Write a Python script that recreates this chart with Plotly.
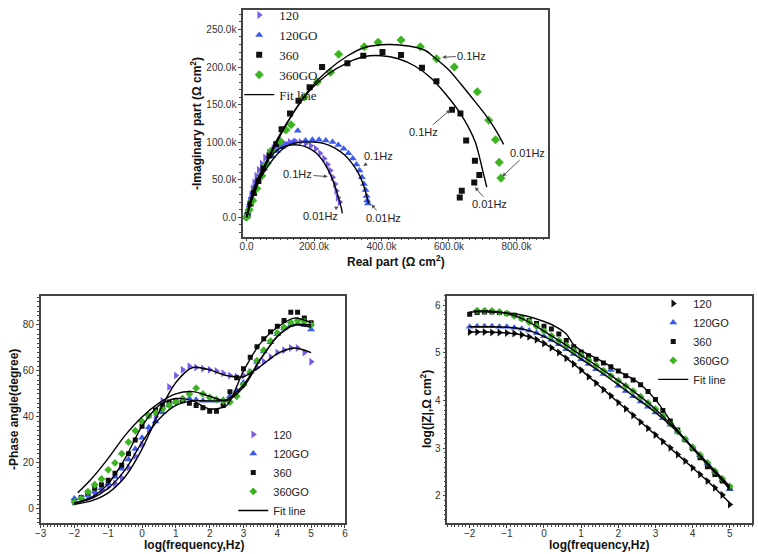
import plotly.graph_objects as go

# ---------------- Nyquist data (values in k ohm cm2) ----------------
ny120_x = [0, 2, 4, 7, 10, 14, 18, 23, 29, 36, 45, 55, 66, 80, 95, 110, 128, 145, 160, 175, 190, 205, 218, 230, 240, 248, 255, 262, 266, 270, 276]
ny120_y = [0, 5, 10, 15, 22, 30, 38, 46, 55, 63, 71, 79, 86, 92, 96, 99, 100, 101, 100, 98, 95, 91, 85, 78, 70, 62, 53, 44, 35, 26, 20]
ny120go_x = [0, 3, 6, 10, 15, 20, 26, 33, 42, 52, 63, 76, 90, 105, 120, 138, 152, 175, 195, 215, 235, 255, 272, 288, 302, 315, 326, 335, 342, 348, 353, 356, 358, 360]
ny120go_y = [0, 5, 11, 18, 26, 33, 41, 49, 57, 65, 73, 81, 88, 93, 97, 100, 115, 102, 103, 103, 102, 100, 96, 91, 85, 78, 70, 62, 53, 44, 36, 28, 22, 18]
ny360_x = [3, 12, 22, 35, 50, 68, 88, 104, 129, 154, 187, 224, 299, 346, 403, 458, 520, 563, 609, 634, 651, 677, 690, 675, 638, 632]
ny360_y = [3, 18, 32, 48, 65, 82, 97, 117, 138, 155, 173, 200, 205, 215, 220, 216, 199, 181, 143, 138, 102, 75, 56, 46, 35, 26]
ny360go_x = [0, 8, 18, 30, 45, 58, 73, 100, 117, 132, 171, 210, 249, 273, 349, 390, 458, 515, 563, 616, 684, 718, 738, 749, 754]
ny360go_y = [0, 10, 22, 38, 55, 70, 88, 101, 116, 123, 160, 180, 193, 217, 227, 233, 236, 227, 211, 200, 167, 129, 103, 73, 52]

nyfit120_x = [0, 10, 25, 45, 70, 100, 130, 155, 180, 205, 225, 242, 255, 265, 274, 281, 284]
nyfit120_y = [0, 20, 42, 62, 80, 92, 96, 96, 93, 86, 76, 63, 50, 37, 24, 12, 5]
nyfit120go_x = [0, 10, 25, 45, 70, 100, 130, 160, 195, 230, 262, 290, 312, 330, 343, 352, 358, 362]
nyfit120go_y = [0, 18, 38, 55, 72, 88, 97, 100, 100, 98, 92, 83, 72, 60, 47, 35, 25, 18]
nyfit360_x = [0, 20, 50, 90, 140, 190, 240, 300, 350, 400, 450, 500, 545, 590, 634, 660, 678, 690, 700, 712]
nyfit360_y = [0, 30, 65, 103, 140, 170, 190, 206, 214, 215, 211, 201, 186, 164, 138, 118, 100, 81, 62, 40]
nyfit360go_x = [0, 20, 50, 90, 140, 190, 240, 300, 350, 420, 480, 530, 556, 600, 634, 670, 712, 740, 762]
nyfit360go_y = [0, 28, 62, 100, 140, 172, 195, 215, 226, 230, 228, 222, 213, 196, 178, 158, 134, 115, 97]

ny_xtickvals = [0, 200, 400, 600, 800]
ny_xticktext = ["0.0", "200.0k", "400.0k", "600.0k", "800.0k"]
ny_ytickvals = [0, 50, 100, 150, 200, 250]
ny_yticktext = ["0.0", "50.0k", "100.0k", "150.0k", "200.0k", "250.0k"]

# frequency labels: text, text position, arrow tip (data units, k)
freq_labels = ["0.1Hz", "0.1Hz", "0.01Hz", "0.01Hz", "0.1Hz", "0.01Hz", "0.1Hz", "0.01Hz"]
freq_text_x = [668, 526, 833, 721, 390, 405, 151, 219]
freq_text_y = [215, 113, 86, 17, 81, -1, 57, 2]
freq_tip_x = [580, 604, 758, 677, 346, 370, 241, 273]
freq_tip_y = [213, 143, 54, 40, 68, 17, 54, 14]

# ---------------- Bode data ----------------
logf = [-2.0, -1.8, -1.6, -1.4, -1.2, -1.0, -0.8, -0.6, -0.4, -0.2, 0.0, 0.2, 0.4, 0.6, 0.8, 1.0, 1.2, 1.4,
        1.6, 1.8, 2.0, 2.2, 2.4, 2.6, 2.8, 3.0, 3.2, 3.4, 3.6, 3.8, 4.0, 4.2, 4.4, 4.6, 4.8, 5.0]
logf_go = [-1.8, -1.6, -1.4, -1.2, -1.0, -0.8, -0.6, -0.4, -0.2, 0.0, 0.2, 0.4, 0.6, 0.8, 1.0, 1.2, 1.4,
           1.6, 1.8, 2.0, 2.2, 2.4, 2.6, 2.8, 3.0, 3.2, 3.4, 3.6, 3.8, 4.0, 4.2, 4.4, 4.6, 4.8, 5.0]

ph120 = [3, 4, 5, 6, 8, 9.5, 11, 13.5, 18, 23, 28, 34, 40, 47, 53, 58, 60.5, 62, 61.5, 61, 60.5, 60, 59, 58, 57.5,
         58, 59.5, 61.5, 64, 66, 68, 69, 70, 70, 68, 64]
ph120go = [4.5, 5, 6, 7.5, 9, 11, 14, 17.5, 21.5, 26, 31, 35.5, 38, 42, 45, 46.5, 47.5, 48, 47.5, 47, 47, 47, 47.5,
           49, 51.5, 55, 59.5, 64, 68.5, 72.5, 76, 78.5, 80, 80.5, 80, 78]
ph360 = [3, 5, 7, 9, 10.5, 12.5, 15.5, 19, 24, 30, 36, 40.5, 43, 45, 46.5, 47, 47, 46, 45, 44, 42.5, 42.5, 45, 51, 57,
         61, 66, 70.5, 74, 77, 79.5, 82, 85.5, 85.5, 83, 81]
ph360go = [3, 4.5, 7.5, 10.5, 13, 17, 20, 24, 29, 34, 38, 40.5, 42, 43.5, 45, 46.5, 48, 50, 52.5, 50, 48.5, 47.5, 47,
           46.5, 49, 54, 59.5, 64.5, 69, 73, 76.5, 79, 81, 82, 81.5, 80]

fit_logf = [-2.0, -1.5, -1.0, -0.5, 0.0, 0.5, 1.0, 1.5, 2.0, 2.5, 3.0, 3.5, 4.0, 4.5, 5.0]
fit_logf_go = [-1.9, -1.5, -1.0, -0.5, 0.0, 0.5, 1.0, 1.5, 2.0, 2.5, 3.0, 3.5, 4.0, 4.5, 5.0]
phfit120 = [2, 3.5, 7, 14, 26, 42, 55, 61.5, 60.5, 58, 57.5, 62, 67.5, 70, 68]
phfit120go = [2.5, 4.5, 9, 17, 29, 39, 45, 47, 47, 47.5, 54, 65, 75, 80, 79]
phfit360 = [2.5, 5, 11, 22, 36, 45, 48, 47, 43.5, 45, 60, 72, 79, 83, 81]
phfit360go = [7, 13, 22, 32, 40, 46, 50, 51, 49, 47, 53, 65, 75, 80, 80]

bz120 = [5.44, 5.44, 5.44, 5.43, 5.43, 5.42, 5.41, 5.38, 5.34, 5.28, 5.20, 5.11, 5.01, 4.89, 4.77, 4.64, 4.50, 4.37,
         4.23, 4.10, 3.96, 3.83, 3.69, 3.55, 3.42, 3.28, 3.14, 3.01, 2.87, 2.73, 2.59, 2.45, 2.31, 2.17, 2.02, 1.82]
bz120go = [5.55, 5.56, 5.56, 5.56, 5.55, 5.55, 5.53, 5.51, 5.47, 5.42, 5.35, 5.27, 5.18, 5.08, 4.98, 4.87, 4.77, 4.66,
           4.56, 4.64, 4.31, 4.20, 4.09, 3.98, 3.87, 3.75, 3.63, 3.49, 3.34, 3.18, 3.01, 2.85, 2.68, 2.51, 2.33, 2.14]
bz360 = [5.81, 5.85, 5.86, 5.86, 5.85, 5.83, 5.79, 5.73, 5.68, 5.62, 5.56, 5.50, 5.40, 5.26, 5.13, 5.02, 4.94, 4.87,
         4.79, 4.71, 4.62, 4.52, 4.43, 4.33, 4.19, 4.02, 3.79, 3.57, 3.38, 3.18, 2.99, 2.80, 2.61, 2.45, 2.31, 2.17]
bz360go = [5.89, 5.89, 5.88, 5.86, 5.83, 5.78, 5.72, 5.65, 5.56, 5.46, 5.36, 5.26, 5.16, 5.05, 4.95, 4.85, 4.74,
           4.63, 4.52, 4.42, 4.31, 4.20, 4.08, 3.95, 3.82, 3.67, 3.52, 3.35, 3.19, 3.02, 2.86, 2.69, 2.52, 2.36, 2.20]

bzfit120 = [5.44, 5.44, 5.42, 5.36, 5.20, 4.95, 4.64, 4.30, 3.96, 3.62, 3.28, 2.93, 2.59, 2.24, 1.85]
bzfit120go = [5.55, 5.55, 5.54, 5.49, 5.35, 5.13, 4.87, 4.61, 4.33, 4.04, 3.75, 3.41, 3.01, 2.59, 2.14]
bzfit360_x = [-2.0, -1.5, -1.0, -0.5, 0.0, 0.3, 0.6, 0.8, 1.0, 1.5, 2.0, 2.5, 3.0, 3.5, 4.0, 4.5, 5.0]
bzfit360 = [5.86, 5.86, 5.84, 5.78, 5.66, 5.56, 5.40, 5.17, 5.05, 4.85, 4.62, 4.40, 4.02, 3.47, 3.00, 2.57, 2.17]
bzfit360go = [5.88, 5.88, 5.83, 5.69, 5.46, 5.21, 4.95, 4.69, 4.42, 4.14, 3.82, 3.44, 3.02, 2.61, 2.20]

# ---------------- styles ----------------
PURPLE = "#7B5BEA"
BLUE = "#3A5AF0"
BLACK = "#111111"
GREEN = "#3DB523"
FITC = "#000000"

W, H = 758, 554


def dom_x(a, b):
    return [a / W, b / W]


def dom_y(top, bottom):
    return [1 - bottom / H, 1 - top / H]


fig = go.Figure()


def add_markers(x, y, name, color, symbol, xa, ya, legend, size=7):
    fig.add_trace(go.Scatter(x=x, y=y, mode="markers", name=name,
                             marker=dict(color=color, symbol=symbol, size=size, line=dict(width=0)),
                             xaxis=xa, yaxis=ya, legend=legend, showlegend=True))


def add_fit(x, y, xa, ya, legend, show):
    fig.add_trace(go.Scatter(x=x, y=y, mode="lines", name="Fit line",
                             line=dict(color=FITC, width=1.4, shape="spline", smoothing=0.8),
                             xaxis=xa, yaxis=ya, legend=legend, showlegend=show))


# Nyquist (x, y)
add_markers(ny120_x, ny120_y, "120", PURPLE, "triangle-right", "x", "y", "legend")
add_markers(ny120go_x, ny120go_y, "120GO", BLUE, "triangle-up", "x", "y", "legend")
add_markers(ny360_x, ny360_y, "360", BLACK, "square", "x", "y", "legend", 6)
add_markers(ny360go_x, ny360go_y, "360GO", GREEN, "diamond", "x", "y", "legend")
add_fit(nyfit120_x, nyfit120_y, "x", "y", "legend", True)
add_fit(nyfit120go_x, nyfit120go_y, "x", "y", "legend", False)
add_fit(nyfit360_x, nyfit360_y, "x", "y", "legend", False)
add_fit(nyfit360go_x, nyfit360go_y, "x", "y", "legend", False)

# Phase (x2, y2)
add_markers(logf, ph120, "120", PURPLE, "triangle-right", "x2", "y2", "legend2", 7)
add_markers(logf, ph120go, "120GO", BLUE, "triangle-up", "x2", "y2", "legend2", 7)
add_markers(logf, ph360, "360", BLACK, "square", "x2", "y2", "legend2", 5)
add_markers(logf, ph360go, "360GO", GREEN, "diamond", "x2", "y2", "legend2", 6)
add_fit(fit_logf, phfit120, "x2", "y2", "legend2", True)
add_fit(fit_logf, phfit120go, "x2", "y2", "legend2", False)
add_fit(fit_logf, phfit360, "x2", "y2", "legend2", False)
add_fit(fit_logf_go, phfit360go, "x2", "y2", "legend2", False)

# |Z| (x3, y3)
add_markers(logf, bz120, "120", BLACK, "triangle-right", "x3", "y3", "legend3", 7)
add_markers(logf, bz120go, "120GO", BLUE, "triangle-up", "x3", "y3", "legend3", 7)
add_markers(logf, bz360, "360", BLACK, "square", "x3", "y3", "legend3", 5)
add_markers(logf_go, bz360go, "360GO", GREEN, "diamond", "x3", "y3", "legend3", 6)
add_fit(fit_logf, bzfit120, "x3", "y3", "legend3", True)
add_fit(fit_logf, bzfit120go, "x3", "y3", "legend3", False)
add_fit(bzfit360_x, bzfit360, "x3", "y3", "legend3", False)
add_fit(fit_logf_go, bzfit360go, "x3", "y3", "legend3", False)

tickfont = dict(family="Arial", size=10, color="#333333")
axis_common = dict(showline=True, linecolor="#444444", linewidth=1.5, mirror=True, ticks="outside",
                   ticklen=3, tickwidth=1, tickcolor="#444444", showgrid=False, zeroline=False,
                   tickfont=tickfont)
minor_x = dict(ticks="outside", ticklen=2, tickcolor="#444444")

fig.update_layout(
    width=W, height=H, margin=dict(l=0, r=0, t=0, b=0),
    paper_bgcolor="white", plot_bgcolor="white",
    xaxis=dict(domain=dom_x(240, 549), range=[-10, 895], tickvals=ny_xtickvals, ticktext=ny_xticktext,
               minor=dict(dtick=20, **minor_x), anchor="y", ticklabelstandoff=-3, **axis_common),
    yaxis=dict(domain=dom_y(2, 232), range=[-26, 276], tickvals=ny_ytickvals, ticktext=ny_yticktext,
               minor=dict(dtick=10, **minor_x), anchor="x", **axis_common),
    xaxis2=dict(domain=dom_x(35, 343), range=[-3, 6], dtick=1,
                minor=dict(dtick=0.1, **minor_x), anchor="y2", ticklabelstandoff=-3, **axis_common),
    yaxis2=dict(domain=dom_y(292.7, 522.7), range=[-6.2, 92.4], tickvals=[0, 20, 40, 60, 80],
                minor=dict(dtick=2, **minor_x), anchor="x2", **axis_common),
    xaxis3=dict(domain=dom_x(446.7, 755), range=[-2.6, 5.6], tickvals=[-2, -1, 0, 1, 2, 3, 4, 5],
                minor=dict(dtick=0.1, **minor_x), anchor="y3", ticklabelstandoff=-3, **axis_common),
    yaxis3=dict(domain=dom_y(292, 522.3), range=[1.435, 6.2], tickvals=[2, 3, 4, 5, 6],
                minor=dict(dtick=0.1, **minor_x), anchor="x3", **axis_common),
    legend=dict(x=236 / W, y=1 + 8 / H, xanchor="left", yanchor="top", bgcolor="rgba(0,0,0,0)",
                font=dict(family="Liberation Serif", size=13, color="#222222"), itemwidth=30),
    legend2=dict(x=230 / W, y=1 - 418 / H, xanchor="left", yanchor="top", bgcolor="rgba(0,0,0,0)",
                 font=dict(family="Arial", size=11, color="#222222"), itemwidth=30),
    legend3=dict(x=655 / W, y=1 - 285 / H, xanchor="left", yanchor="top", bgcolor="rgba(0,0,0,0)",
                 font=dict(family="Arial", size=11, color="#222222"), itemwidth=30),
    showlegend=True,
)

# frequency annotations
for t, tx, ty, px, py in zip(freq_labels, freq_text_x, freq_text_y, freq_tip_x, freq_tip_y):
    fig.add_annotation(x=px, y=py, ax=tx, ay=ty, xref="x", yref="y", axref="x", ayref="y",
                       text=t, showarrow=True, arrowhead=2, arrowsize=0.8, arrowwidth=1,
                       arrowcolor="#555555", font=dict(family="Arial", size=11, color="#222222"))

title_font = dict(family="Arial", size=12, color="#111111")
axis_titles = [
    ("<b>Real part (Ω cm<sup>2</sup>)</b>", 395, 257, 0),
    ("<b>-Imaginary part (Ω cm<sup>2</sup>)</b>", 193, 117, -90),
    ("<b>log(frequency,Hz)</b>", 190, 545, 0),
    ("<b>-Phase angle(degree)</b>", 8, 407, -90),
    ("<b>log(frequency,Hz)</b>", 600, 545, 0),
    ("<b>log(|Z|,Ω cm<sup>2</sup>)</b>", 425, 407, -90),
]
for txt, px, py, ang in axis_titles:
    fig.add_annotation(x=px / W, y=1 - py / H, xref="paper", yref="paper", text=txt, showarrow=False,
                       textangle=ang, font=title_font, xanchor="center", yanchor="middle")

fig.write_html("out.html", config={"displayModeBar": False},
               post_script="document.body.style.margin='0px';")
